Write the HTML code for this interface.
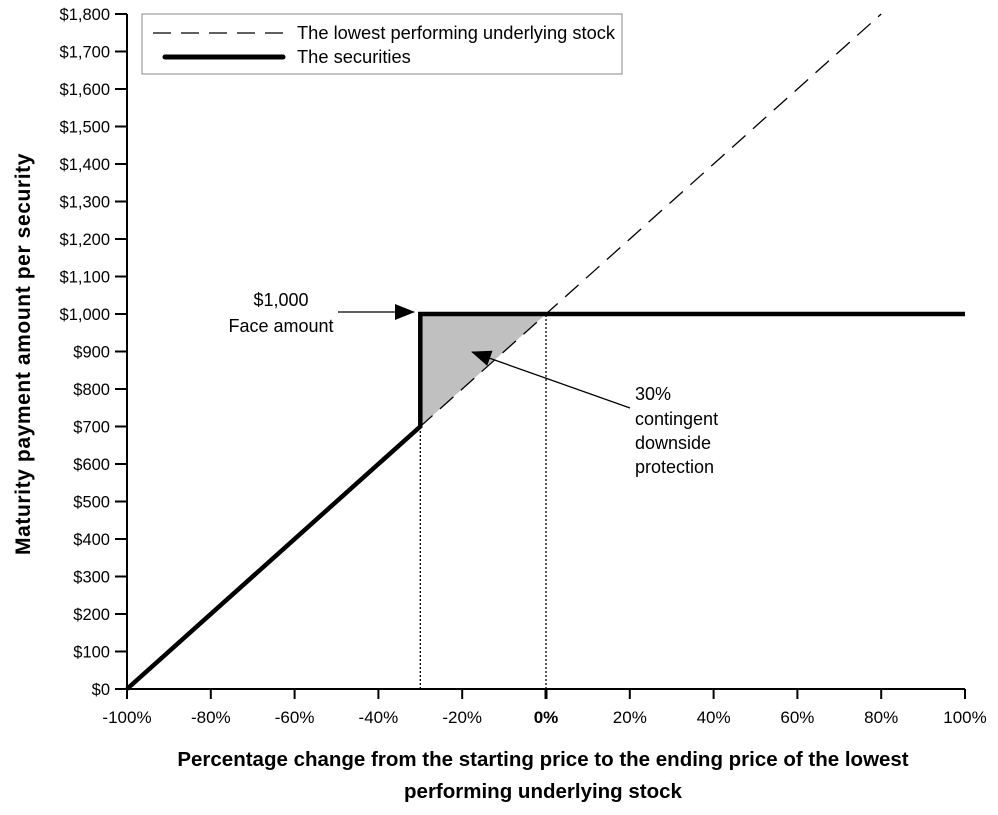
<!DOCTYPE html>
<html><head><meta charset="utf-8"><style>
body{margin:0;background:#fff}
text{font-family:"Liberation Sans",Arial,sans-serif;fill:#000}
</style></head><body>
<svg width="998" height="810" viewBox="0 0 998 810" xmlns="http://www.w3.org/2000/svg">
<g id="g"></g>
</svg>
<script>
const xTicks=[-100,-80,-60,-40,-20,0,20,40,60,80,100];
const yTicks=[0,100,200,300,400,500,600,700,800,900,1000,1100,1200,1300,1400,1500,1600,1700,1800];
const stockX=[-100,80];
const stockY=[0,1800];
const secX=[-100,-30,-30,100];
const secY=[0,700,1000,1000];
const shadeX=[-30,-30,0];
const shadeY=[700,1000,1000];
const dropX=[-30,0];
const dropY=[700,1000];
const X=v=>127+(v+100)*(965-127)/200;
const Y=v=>689-v*(689-14)/1800;
const NS="http://www.w3.org/2000/svg";
const g=document.getElementById('g');
function el(t,a,txt){const e=document.createElementNS(NS,t);for(const k in a)e.setAttribute(k,a[k]);if(txt!==undefined)e.textContent=txt;g.appendChild(e);return e;}
let s=el('polygon',{points:shadeX.map((x,i)=>X(x)+','+Y(shadeY[i])).join(' '),fill:'#c0c0c0'});


dropX.forEach((x,i)=>{const l=el('line',{x1:X(x),x2:X(x),y1:Y(0),y2:Y(dropY[i]),stroke:'#000','stroke-width':1.3,'stroke-dasharray':'2,2'});

});
let ax=el('line',{x1:X(-100),x2:X(100),y1:Y(0),y2:Y(0),stroke:'#000','stroke-width':2});


let ay=el('line',{x1:X(-100),x2:X(-100),y1:Y(0),y2:Y(1800),stroke:'#000','stroke-width':2});


xTicks.forEach(v=>{el('line',{x1:X(v),x2:X(v),y1:Y(0),y2:Y(0)+10,stroke:'#000','stroke-width':v===0?3:2});
const t=el('text',{x:X(v),y:Y(0)+34,'text-anchor':'middle','font-size':17,'font-weight':v===0?'bold':'normal'},v+'%');

});
yTicks.forEach(v=>{el('line',{x1:X(-100)-12,x2:X(-100),y1:Y(v),y2:Y(v),stroke:'#000','stroke-width':2});
const t=el('text',{x:X(-100)-17,y:Y(v)+6,'text-anchor':'end','font-size':16.5},'$'+v.toLocaleString('en-US'));

});
let st=el('polyline',{points:stockX.map((x,i)=>X(x)+','+Y(stockY[i])).join(' '),fill:'none',stroke:'#000','stroke-width':1.3,'stroke-dasharray':'18,10'});


let se=el('polyline',{points:secX.map((x,i)=>X(x)+','+Y(secY[i])).join(' '),fill:'none',stroke:'#000','stroke-width':4.5,'stroke-linejoin':'miter'});


</script>
<svg width="998" height="810" style="position:absolute;left:0;top:0" xmlns="http://www.w3.org/2000/svg">
<defs><marker id="ah2" markerWidth="20" markerHeight="16" refX="19" refY="8" orient="auto" markerUnits="userSpaceOnUse"><path d="M0,0 L20,8 L0,16 z" fill="#000"/></marker></defs>
<g>
<rect x="142" y="14" width="480" height="60" fill="#fff" stroke="#888" stroke-width="1"/>
<line x1="153" y1="33" x2="285" y2="33" stroke="#000" stroke-width="1.3" stroke-dasharray="18,10"/>
<text x="297" y="39" font-size="18.3">The lowest performing underlying stock</text>
<line x1="165" y1="57" x2="283" y2="57" stroke="#000" stroke-width="5" stroke-linecap="round"/>
<text x="297" y="63" font-size="18.3">The securities</text>
</g>
<text x="281" y="306" font-size="18" text-anchor="middle">$1,000</text>
<text x="281" y="332" font-size="18" text-anchor="middle">Face amount</text>
<line x1="338" y1="312" x2="414" y2="312" stroke="#000" stroke-width="1.3" marker-end="url(#ah2)"/>
<g font-size="18">
<text x="635" y="400">30%</text><text x="635" y="425">contingent</text><text x="635" y="449">downside</text><text x="635" y="473">protection</text></g>
<line x1="630" y1="408" x2="472" y2="352" stroke="#000" stroke-width="1.3" marker-end="url(#ah2)"/>
<text transform="translate(30,354) rotate(-90)" text-anchor="middle" font-size="21" font-weight="bold" letter-spacing="0.6">Maturity payment amount per security</text>
<text x="543" y="766" text-anchor="middle" font-size="20.5" font-weight="bold">Percentage change from the starting price to the ending price of the lowest</text>
<text x="543" y="798" text-anchor="middle" font-size="20.5" font-weight="bold">performing underlying stock</text>
</svg>
</body></html>
